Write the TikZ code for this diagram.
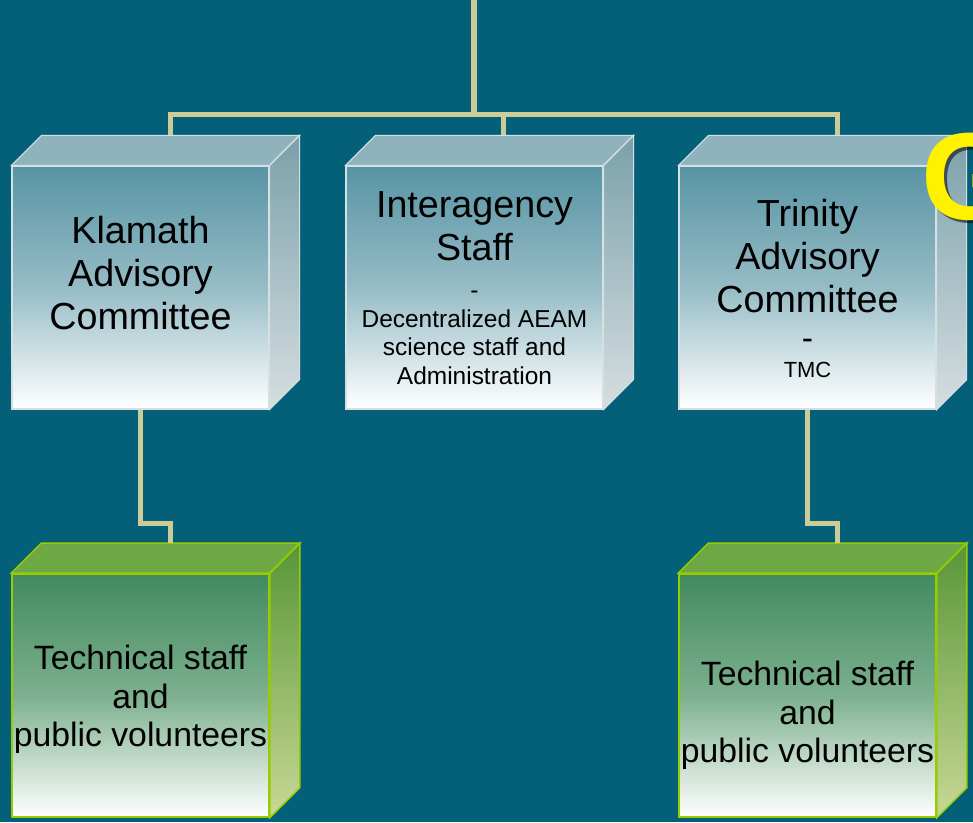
\documentclass[tikz,border=0pt]{standalone}
\usepackage{fontspec}
\setmainfont{Liberation Sans}
\usepackage{tikz}

\definecolor{slidebg}{RGB}{4,96,121}
\definecolor{linkcol}{RGB}{204,204,153}
\definecolor{blueedge}{RGB}{212,224,228}
\definecolor{bluetop}{RGB}{88,148,164}
\definecolor{bluemid}{RGB}{150,188,198}
\definecolor{bluelid}{RGB}{143,179,188}
\definecolor{blueside}{RGB}{122,160,170}
\definecolor{bluesidelow}{RGB}{214,222,224}
\definecolor{greenedge}{RGB}{153,204,0}
\definecolor{greentop}{RGB}{66,138,96}
\definecolor{greenmid}{RGB}{125,176,142}
\definecolor{greenlid}{RGB}{109,168,69}
\definecolor{greenside}{RGB}{88,150,55}
\definecolor{greensidelow}{RGB}{200,216,150}

\tikzset{
  cubeface/.style={minimum width=6.425cm, minimum height=6.075cm, inner sep=0pt},
  bluefront/.style={cubeface, shade, top color=bluetop, bottom color=white, middle color=bluemid, draw=blueedge, line width=0.8pt},
  greenfront/.style={cubeface, shade, top color=greentop, bottom color=white, middle color=greenmid, draw=greenedge, line width=1.1pt},
  bluelidface/.style={fill=bluelid, draw=blueedge, line width=0.8pt},
  bluesideface/.style={top color=blueside, bottom color=bluesidelow, draw=blueedge, line width=0.8pt},
  greenlidface/.style={fill=greenlid, draw=greenedge, line width=1.1pt},
  greensideface/.style={top color=greenside, bottom color=greensidelow, draw=greenedge, line width=1.1pt},
  bigtext/.style={font=\fontsize{26.8}{30.6}\selectfont, align=center, inner sep=0pt},
  smalltext/.style={font=\fontsize{17.4}{20.3}\selectfont, align=center, inner sep=0pt},
  greentext/.style={font=\fontsize{24}{27.4}\selectfont, align=center, inner sep=0pt},
  link/.style={draw=linkcol, line width=4pt}
}

\begin{document}
\begin{tikzpicture}[x=0.025cm, y=-0.025cm]
\fill[slidebg] (0,0) rectangle (973,822);
\useasboundingbox (0,0) rectangle (973,822);

\path (140.5,287.5) node[bluefront] (klamath) {}
      (474.5,287.5) node[bluefront] (inter) {}
      (807.5,287.5) node[bluefront] (trinity) {}
      (140.5,695.5) node[greenfront] (ktech) {}
      (807.5,695.5) node[greenfront] (ttech) {};

\foreach \cube in {klamath, inter, trinity} {
  \filldraw[bluelidface] (\cube.north west) -- ++(30,-30) -- ([shift={(30,-30)}]\cube.north east) -- (\cube.north east) -- cycle;
  \filldraw[bluesideface] (\cube.north east) -- ++(30,-30) -- ([shift={(30,-30)}]\cube.south east) -- (\cube.south east) -- cycle;
}
\foreach \cube in {ktech, ttech} {
  \filldraw[greenlidface] (\cube.north west) -- ++(30,-30) -- ([shift={(30,-30)}]\cube.north east) -- (\cube.north east) -- cycle;
  \filldraw[greensideface] (\cube.north east) -- ++(30,-30) -- ([shift={(30,-30)}]\cube.south east) -- (\cube.south east) -- cycle;
}

\coordinate (root) at (474,0);
\coordinate (klamath top) at ([shift={(30,-30)}]klamath.north);
\coordinate (inter top) at ([shift={(29,-30)}]inter.north);
\coordinate (trinity top) at ([shift={(30,-30)}]trinity.north);
\coordinate (ktech top) at ([shift={(30,-30)}]ktech.north);
\coordinate (ttech top) at ([shift={(30,-30)}]ttech.north);

\draw[link] (klamath top) -- ++(0,-21) -| (trinity top);
\draw[link] (root) -- (root |- 0,115);
\draw[link] (inter top) -- (inter top |- 0,115);
\draw[link] (klamath.south) -- ++(0,114) -| (ktech top);
\draw[link] (trinity.south) -- ++(0,114) -| (ttech top);

\path (140.5,330) node[bigtext, anchor=south] (klamath text) {Klamath\\Advisory\\Committee}
      (474.5,261) node[bigtext, anchor=south] (inter text) {Interagency\\Staff}
      (474.5,385) node[smalltext, anchor=south] (inter sub) {-\\Decentralized AEAM\\science staff and\\Administration}
      (807.5,313) node[bigtext, anchor=south] (trinity text) {Trinity\\Advisory\\Committee}
      (807.5,378) node[font=\fontsize{15.6}{20}\selectfont, align=center, inner sep=0pt, anchor=south] (trinity sub) {\fontsize{24}{20}\selectfont -\\TMC}
      (140.5,754) node[greentext, anchor=south] (ktech text) {Technical staff\\and\\public volunteers}
      (807.5,770) node[greentext, anchor=south] (ttech text) {Technical staff\\and\\public volunteers};

\node[font=\fontsize{88}{88}\bfseries\selectfont, text=black, opacity=0.55, anchor=west, inner sep=0pt] (gshadow) at (924,179.5) {G};
\node[font=\fontsize{88}{88}\bfseries\selectfont, text=yellow, anchor=west, inner sep=0pt] (gtitle) at (921,176.5) {G};
\end{tikzpicture}
\end{document}
